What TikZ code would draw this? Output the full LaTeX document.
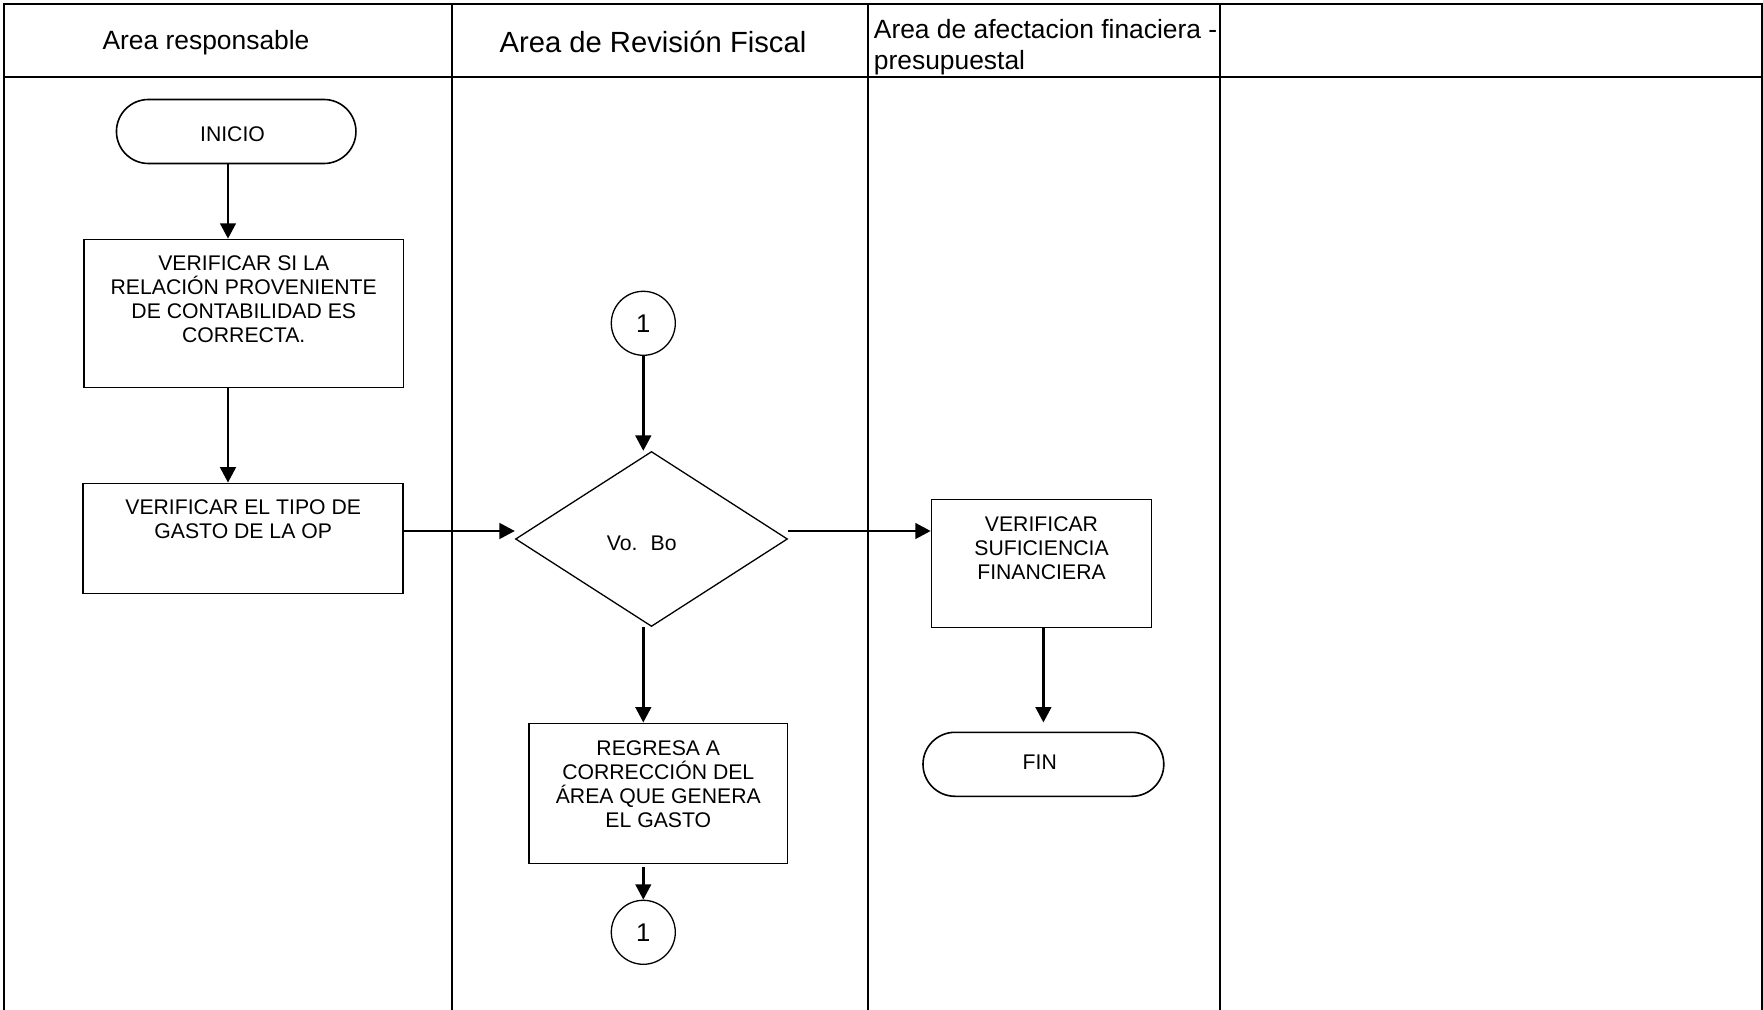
\documentclass[tikz,border=0pt]{standalone}
\usepackage{fontspec}
\setmainfont{Liberation Sans}
\usetikzlibrary{arrows.meta,shapes.geometric}
\begin{document}
\begin{tikzpicture}[x=0.5pt,y=-0.5pt,
  frame/.style={line width=1pt},
  procbox/.style={draw, line width=0.8pt, rectangle, inner sep=0pt},
  term/.style={draw, line width=0.8pt, rectangle, rounded corners=16pt, inner sep=0pt, minimum height=32pt},
  boxtext/.style={anchor=north, inner sep=0pt, align=center, font=\fontsize{10.6}{12}\selectfont},
  plaintext/.style={inner sep=0pt, font=\fontsize{10.6}{12}\selectfont},
  conn/.style={draw, circle, line width=0.65pt, minimum size=32pt, inner sep=0pt, font=\fontsize{12.8}{14}\selectfont},
  arr/.style={line width=1.3pt, -{Triangle[length=7.7pt,width=7.8pt]}},
  hdr/.style={inner sep=0pt, font=\fontsize{13.2}{15.5}\selectfont}
]
\useasboundingbox (0,0) rectangle (1763,1010);
\fill[white] (0,0) rectangle (1763,1010);

% frame and lanes
\draw[frame] (3.5,1010) -- (3.5,4) -- (1761.5,4) -- (1761.5,1010);
\draw[frame] (3.5,77) -- (1761.5,77);
\draw[frame] (452,4) -- (452,1010);
\draw[frame] (867.5,4) -- (867.5,1010);
\draw[frame] (1220,4) -- (1220,1010);

% headers
\node[hdr, anchor=base] (h1) at (206,50) {Area responsable};
\node[hdr, anchor=base, font=\fontsize{14.6}{16}\selectfont] (h2) at (653,52.5) {Area de Revisión Fiscal};
\node[hdr, anchor=north west, align=left] (h3) at (873.5,18.5) {Area de afectacion finaciera -\\presupuestal};

% nodes
\node[term, minimum width=119.75pt] (inicio) at (236.2,131.5) {};
\node[plaintext] (tinicio) at (232.5,134) {INICIO};

\node[procbox, minimum width=159.75pt, minimum height=74pt] (b1) at (243.75,313.5) {};
\node[boxtext] (t1) at (243.75,255) {VERIFICAR SI LA\\RELACIÓN PROVENIENTE\\DE CONTABILIDAD ES\\CORRECTA.};

\node[procbox, minimum width=160pt, minimum height=55pt] (b2) at (243.2,538.4) {};
\node[boxtext] (t2) at (243.2,499.3) {VERIFICAR EL TIPO DE\\GASTO DE LA OP};

\node[conn] (c1) at (643.3,323.3) {1};

\node[draw, diamond, line width=0.65pt, inner sep=0pt, minimum width=136pt, minimum height=87.5pt] (dia) at (651.5,539) {};
\node[plaintext] (vobo) at (641.7,543.5) {Vo.\hspace{0.25em} Bo};

\node[procbox, minimum width=110pt, minimum height=64pt] (vsf) at (1041.5,563.4) {};
\node[boxtext] (t3) at (1041.5,516) {VERIFICAR\\SUFICIENCIA\\FINANCIERA};

\node[term, minimum width=120.4pt] (fin) at (1043.4,764.3) {};
\node[plaintext] (tfin) at (1039.8,762.2) {FIN};

\node[procbox, minimum width=129.35pt, minimum height=70pt] (reg) at (658.3,793.3) {};
\node[boxtext] (t4) at (658.3,740) {REGRESA A\\CORRECCIÓN DEL\\ÁREA QUE GENERA\\EL GASTO};

\node[conn] (c2) at (643.3,932.3) {1};

% helper coordinates
\coordinate (colA) at (228,0);
\coordinate (rowA) at (0,531);

% connectors
\draw[arr] (inicio.south -| colA) -- (b1.north -| colA);
\draw[arr] (b1.south -| colA) -- (b2.north -| colA);
\draw[arr] (b2.east |- rowA) -- (dia.west |- rowA);
\draw[arr] (c1.south) -- (c1 |- dia.north);
\draw[arr] (dia.east |- rowA) -- (vsf.west |- rowA);
\draw[arr] (c1 |- dia.south) -- (c1 |- reg.north);
\draw[arr, shorten <=1.5pt] (c1 |- reg.south) -- (c2.north);
\draw[arr, shorten >=4.5pt] (fin.north |- vsf.south) -- (fin.north);
\end{tikzpicture}
\end{document}
